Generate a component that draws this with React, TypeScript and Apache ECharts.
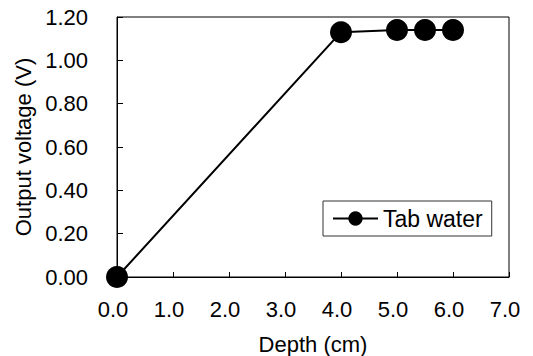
import React, { useEffect, useRef } from "react";
import * as echarts from "echarts";

const depths = [0, 4, 5, 5.5, 6];
const voltages = [0.0, 1.13, 1.14, 1.14, 1.14];
const seriesName = "Tab water";
const xAxisTitle = "Depth (cm)";
const yAxisTitle = "Output voltage (V)";

const FONT = "'Liberation Sans', Arial, sans-serif";

export default function App() {
  const ref = useRef<HTMLDivElement>(null);
  useEffect(() => {
    if (!ref.current) return;
    const chart = echarts.init(ref.current, undefined, { renderer: "svg" });
    chart.setOption({
      animation: false,
      backgroundColor: "#fff",
      textStyle: { fontFamily: FONT },
      grid: {
        left: 117,
        right: 24,
        top: 17,
        bottom: 79,
        show: true,
        borderColor: "#000",
        borderWidth: 1,
        outerBoundsMode: "none",
        containLabel: false,
      },
      legend: {
        left: 323,
        top: 201,
        orient: "horizontal",
        padding: [6, 9, 6, 9],
        borderColor: "#333",
        borderWidth: 1,
        itemWidth: 45,
        itemHeight: 18,
        itemGap: 0,
        textStyle: { fontFamily: FONT, fontSize: 23, color: "#000" },
        data: [seriesName],
      },
      xAxis: {
        type: "value",
        min: 0,
        max: 7,
        interval: 1,
        name: xAxisTitle,
        nameLocation: "middle",
        nameGap: 56,
        nameTextStyle: { fontFamily: FONT, fontSize: 22, color: "#000" },
        axisLine: { onZero: false, lineStyle: { color: "#000", width: 1 } },
        axisTick: { inside: true, length: 5, lineStyle: { color: "#000" } },
        axisLabel: {
          margin: 21,
          fontFamily: FONT,
          fontSize: 22,
          color: "#000",
          padding: [0, 8, 0, 0],
          formatter: (v: number) => v.toFixed(1),
        },
        splitLine: { show: false },
      },
      yAxis: {
        type: "value",
        min: 0,
        max: 1.2,
        interval: 0.2,
        name: yAxisTitle,
        nameLocation: "middle",
        nameGap: 82,
        nameTextStyle: { fontFamily: FONT, fontSize: 22, color: "#000" },
        axisLine: { show: true, onZero: false, lineStyle: { color: "#000", width: 1 } },
        axisTick: { show: true, inside: true, length: 6, lineStyle: { color: "#000" } },
        axisLabel: {
          margin: 29,
          fontFamily: FONT,
          fontSize: 22,
          color: "#000",
          formatter: (v: number) => v.toFixed(2),
        },
        splitLine: { show: false },
      },
      series: [
        {
          name: seriesName,
          type: "line",
          data: depths.map((d, i) => [d, voltages[i]]),
          symbol: "circle",
          symbolSize: 22,
          itemStyle: { color: "#000" },
          lineStyle: { color: "#000", width: 2 },
          clip: false,
          z: 5,
        },
      ],
    });
    return () => chart.dispose();
  }, []);
  return <div ref={ref} style={{ width: 533, height: 356, position: "absolute", left: 0, top: 0 }} />;
}
